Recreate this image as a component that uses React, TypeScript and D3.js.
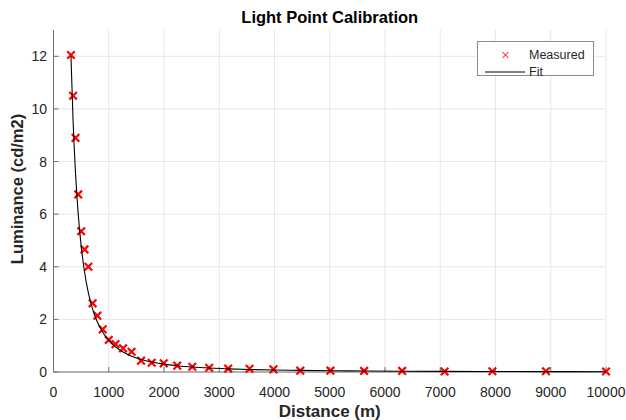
import * as d3 from "d3";

// measured distances (m) and luminance (cd/m2)
const distances = [
  316, 355, 398, 447, 501, 562, 631, 708, 794, 891, 1000, 1122, 1259, 1413, 1585,
  1778, 1995, 2239, 2512, 2818, 3162, 3548, 3981, 4467, 5012, 5623, 6310, 7079,
  7943, 8913, 10000,
];
const measured = [
  12.05, 10.5, 8.9, 6.75, 5.35, 4.66, 4.0, 2.61, 2.14, 1.62, 1.22, 1.06, 0.9, 0.77,
  0.43, 0.35, 0.33, 0.24, 0.2, 0.16, 0.13, 0.12, 0.1, 0.05, 0.05, 0.04, 0.04, 0.02,
  0.03, 0.03, 0.02,
];
// fitted luminance at the same distances
const fitted = [
  12.0, 9.52, 7.58, 6.01, 4.78, 3.8, 3.01, 2.39, 1.9, 1.51, 1.2, 0.953, 0.757, 0.601,
  0.478, 0.38, 0.301, 0.239, 0.19, 0.151, 0.12, 0.095, 0.076, 0.06, 0.048, 0.038,
  0.03, 0.024, 0.019, 0.015, 0.012,
];
const xTicks = [0, 1000, 2000, 3000, 4000, 5000, 6000, 7000, 8000, 9000, 10000];
const yTicks = [0, 2, 4, 6, 8, 10, 12];

const W = 626;
const H = 420;
const left = 53.5;
const right = 606;
const top = 30;
const bottom = 372;

const FONT = "'Liberation Sans', Arial, Helvetica, sans-serif";
const TEXT = "#262626";

function Cross({ x, y, r, w }: { x: number; y: number; r: number; w: number }) {
  return (
    <path
      d={`M${x - r},${y - r}L${x + r},${y + r}M${x - r},${y + r}L${x + r},${y - r}`}
      stroke="#ff0000"
      strokeWidth={w}
      fill="none"
    />
  );
}

export default function App() {
  const x = d3.scaleLinear().domain([0, 10000]).range([left, right]);
  const y = d3.scaleLinear().domain([0, 13]).range([bottom, top]);

  const pts = distances.map((d, i) => [d, fitted[i]] as [number, number]);
  const line = d3
    .line<[number, number]>()
    .x((d) => x(d[0]))
    .y((d) => y(d[1]))
    .curve(d3.curveMonotoneX);

  return (
    <svg
      width={W}
      height={H}
      style={{ position: "absolute", left: 0, top: 0, background: "#fff" }}
      fontFamily={FONT}
    >
      <rect width={W} height={H} fill="#fff" />

      {/* grid */}
      {xTicks.map((t) => (
        <line key={"gx" + t} x1={x(t)} x2={x(t)} y1={top} y2={bottom} stroke="#e6e6e6" />
      ))}
      {yTicks.map((t) => (
        <line key={"gy" + t} x1={left} x2={right} y1={y(t)} y2={y(t)} stroke="#e6e6e6" />
      ))}

      {/* axes */}
      <line x1={left} x2={left} y1={top} y2={bottom} stroke="#707070" />
      <line x1={left} x2={right} y1={bottom} y2={bottom} stroke="#707070" />
      {xTicks.map((t) => (
        <g key={"tx" + t}>
          <line x1={x(t)} x2={x(t)} y1={bottom} y2={bottom - 5} stroke="#707070" />
          <text x={x(t)} y={397} textAnchor="middle" fontSize={14} fill={TEXT}>
            {t}
          </text>
        </g>
      ))}
      {yTicks.map((t) => (
        <g key={"ty" + t}>
          <line x1={left} x2={left + 5} y1={y(t)} y2={y(t)} stroke="#707070" />
          <text x={47} y={y(t) + 5} textAnchor="end" fontSize={14} fill={TEXT}>
            {t}
          </text>
        </g>
      ))}

      {/* markers */}
      {distances.map((d, i) => (
        <Cross key={"m" + i} x={x(d)} y={y(measured[i])} r={3.8} w={2.2} />
      ))}

      {/* fit */}
      <path d={line(pts) ?? ""} fill="none" stroke="#000" strokeWidth={1.1} />

      {/* labels */}
      <text x={(left + right) / 2} y={23} textAnchor="middle" fontSize={16.5} fontWeight="bold" fill="#000">
        Light Point Calibration
      </text>
      <text x={(left + right) / 2} y={417} textAnchor="middle" fontSize={17} fontWeight="bold" fill={TEXT}>
        Distance (m)
      </text>
      <text
        transform={`translate(23,189) rotate(-90)`}
        textAnchor="middle"
        fontSize={16.5}
        fontWeight="bold"
        fill={TEXT}
      >
        Luminance (cd/m2)
      </text>

      {/* legend */}
      <rect x={477.5} y={41.5} width={116} height={34} fill="#fff" stroke="#8c8c8c" />
      <Cross x={505.5} y={55} r={3} w={1} />
      <text x={529} y={59} fontSize={12.5} fill={TEXT}>
        Measured
      </text>
      <line x1={485} x2={525} y1={72} y2={72} stroke="#000" />
      <text x={529} y={76} fontSize={12.5} fill={TEXT}>
        Fit
      </text>
    </svg>
  );
}
